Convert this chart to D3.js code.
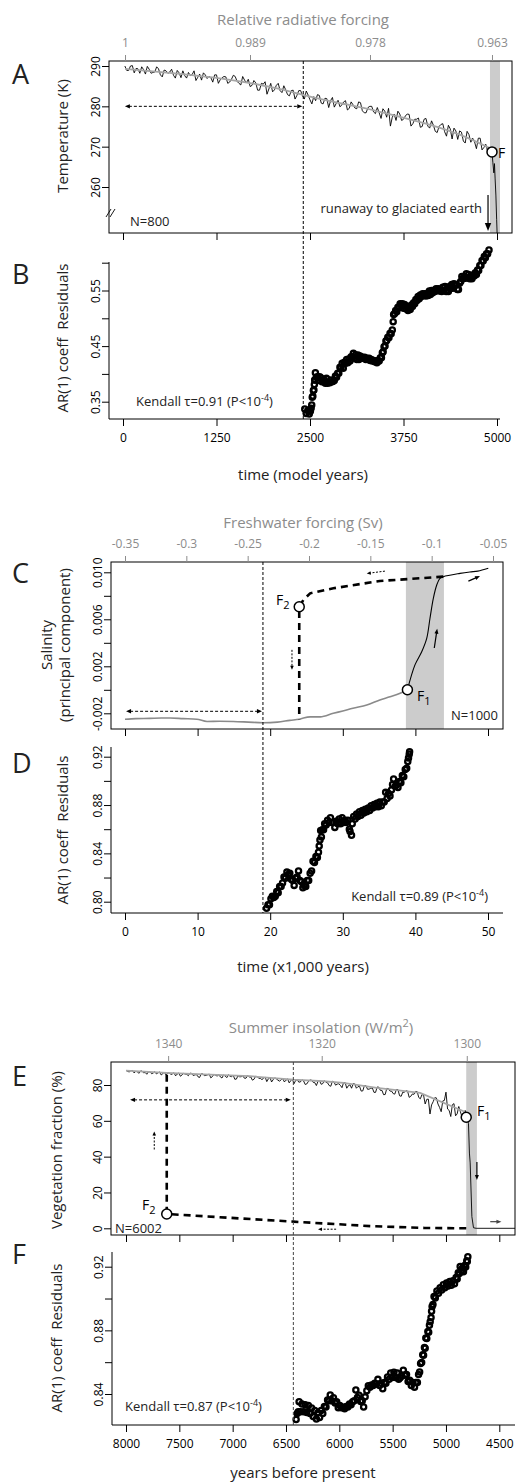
<!DOCTYPE html>
<html>
<head>
<meta charset="utf-8">
<script src="https://cdn.jsdelivr.net/npm/d3@7"></script>
<style>
  body { margin: 0; background: #fff; }
  svg { display: block; font-family: "Open Sans", sans-serif; }
</style>
</head>
<body>
<div id="chart"></div>
<script>
// ━━━━━━━━━━━━━━━━━━━━━━━━━━━━━━━━━━━━━━━━━━━━━━━━━━━━━━━━━━━━━━━━━━━━━━━━━━━━━━
// Data /////////////////////////////////////////////////////////////////////////
// ━━━━━━━━━━━━━━━━━━━━━━━━━━━━━━━━━━━━━━━━━━━━━━━━━━━━━━━━━━━━━━━━━━━━━━━━━━━━━━

// A: temperature (K) every 25 model years from year 25
const aStart = 25, aStep = 25;
const aTemp = [
  290.0,288.9,288.9,290.0,290.1,288.3,289.4,289.3,288.2,289.8,289.1,288.0,289.9,289.2,288.2,288.4,288.5,289.8,289.3,287.8,
  287.3,289.0,288.8,288.2,288.5,289.2,287.7,287.0,288.9,288.3,287.1,288.8,287.6,287.0,288.4,287.6,287.9,288.8,286.4,287.2,
  288.0,286.5,288.3,287.8,286.9,287.4,287.1,286.0,287.8,287.8,285.7,286.6,287.1,287.4,287.3,285.7,286.0,286.7,287.7,287.4,
  286.2,285.7,285.3,287.4,286.5,285.8,286.7,284.9,285.2,286.4,285.8,284.0,284.0,285.7,285.5,286.1,283.0,284.3,285.7,283.6,
  284.1,285.2,285.7,283.9,283.4,285.1,284.1,282.9,282.6,283.9,284.0,281.8,282.7,283.9,283.9,282.6,281.8,283.8,282.8,281.6,
  280.6,282.4,281.4,282.9,282.7,280.8,280.6,282.0,281.9,279.7,281.4,282.2,279.8,280.7,281.5,279.9,280.3,281.1,281.4,279.1,
  279.5,281.1,280.4,279.6,279.4,281.1,280.9,278.9,278.4,278.4,279.7,280.0,280.0,278.6,278.2,279.7,278.4,277.0,279.4,278.8,
  277.3,279.5,275.1,277.3,278.1,276.5,278.8,278.1,276.5,276.8,277.6,278.1,278.0,275.1,275.7,276.8,276.8,277.1,274.8,275.0,
  276.8,277.0,275.1,274.6,276.4,275.3,273.8,273.5,275.0,275.5,275.7,273.7,272.6,275.3,274.4,271.9,274.6,273.9,271.8,273.9,
  273.6,271.4,270.9,273.8,273.0,271.1,272.1,271.2,269.5,272.1,272.1,269.2,269.8,270.6,268.9
];
const aTrend = [[27,289.3],[695,288.2],[1364,286.9],[2032,284.7],[2407,282.8],[2701,281.5],[3035,280.3],
  [3369,279.0],[3704,277.4],[4038,275.8],[4372,273.9],[4639,272.0],[4906,269.6]];
const aRunaway = [[4933,268.7],[4945,266.0],[4958,263.5],[4966,265.8],[4975,262.0],[4985,258.0],[4995,252.0],[5010,244.0]];
const aFold = [4933, 268.7];
const aBand = [4906, 5040];
const aWindow = [25, 2410];            // sliding window (years)
const aTicksY = [260, 270, 280, 290];
const aTopTicks = [27, 1698, 3302, 4933];
const aTopLabels = ['1', '0.989', '0.978', '0.963'];

// B: AR(1) coefficient of residuals
const bAR = [
  [2430,0.337],[2450,0.329],[2470,0.334],[2490,0.328],[2505,0.333],[2515,0.338],[2523,0.344],[2530,0.358],
  [2538,0.360],[2545,0.370],[2552,0.371],[2558,0.381],[2563,0.389],[2567,0.389],[2572,0.402],[2585,0.394],
  [2600,0.395],[2615,0.388],[2630,0.395],[2645,0.393],[2660,0.386],[2675,0.387],[2690,0.389],[2705,0.383],
  [2720,0.392],[2735,0.383],[2750,0.385],[2765,0.384],[2780,0.389],[2795,0.386],[2810,0.387],[2825,0.388],
  [2840,0.396],[2855,0.394],[2870,0.401],[2885,0.401],[2900,0.412],[2915,0.411],[2930,0.419],[2945,0.410],
  [2960,0.421],[2975,0.419],[2990,0.426],[3005,0.420],[3020,0.427],[3035,0.423],[3050,0.431],[3065,0.430],
  [3080,0.437],[3095,0.428],[3110,0.434],[3125,0.426],[3140,0.434],[3155,0.426],[3170,0.432],[3185,0.428],
  [3200,0.430],[3215,0.428],[3230,0.430],[3245,0.426],[3260,0.428],[3275,0.426],[3290,0.428],[3305,0.424],
  [3320,0.426],[3335,0.423],[3350,0.424],[3365,0.422],[3380,0.423],[3395,0.420],[3410,0.424],[3425,0.423],
  [3440,0.429],[3455,0.429],[3467,0.438],[3478,0.440],[3490,0.449],[3503,0.450],[3515,0.459],[3525,0.460],
  [3540,0.466],[3555,0.465],[3570,0.473],[3585,0.472],[3600,0.479],[3612,0.494],[3618,0.507],[3630,0.508],
  [3645,0.514],[3660,0.512],[3675,0.520],[3690,0.519],[3705,0.526],[3720,0.523],[3735,0.526],[3750,0.518],
  [3765,0.525],[3780,0.517],[3795,0.521],[3810,0.514],[3825,0.519],[3840,0.516],[3855,0.524],[3870,0.521],
  [3885,0.528],[3900,0.526],[3915,0.534],[3930,0.532],[3945,0.539],[3960,0.535],[3975,0.542],[3990,0.539],
  [4005,0.544],[4020,0.541],[4035,0.544],[4050,0.540],[4065,0.544],[4080,0.541],[4095,0.549],[4110,0.543],
  [4125,0.550],[4140,0.546],[4155,0.550],[4170,0.548],[4185,0.553],[4200,0.550],[4215,0.553],[4230,0.549],
  [4245,0.551],[4260,0.548],[4275,0.556],[4290,0.550],[4305,0.557],[4320,0.548],[4335,0.551],[4350,0.548],
  [4365,0.557],[4380,0.554],[4395,0.561],[4410,0.554],[4425,0.562],[4440,0.560],[4455,0.560],[4470,0.552],
  [4485,0.552],[4500,0.563],[4515,0.566],[4530,0.575],[4545,0.571],[4560,0.575],[4575,0.572],[4590,0.580],
  [4605,0.573],[4620,0.579],[4635,0.571],[4650,0.574],[4665,0.571],[4680,0.578],[4695,0.576],[4710,0.582],
  [4725,0.579],[4740,0.587],[4755,0.586],[4770,0.595],[4785,0.595],[4800,0.604],[4815,0.603],[4830,0.611],
  [4845,0.609],[4860,0.616],[4875,0.616],[4893,0.623]
];
const bTicksX = [0, 1250, 2500, 3750, 5000];
const bTicksY = [0.35, 0.40, 0.45, 0.50, 0.55, 0.60];
const bLabelsY = ['0.35', '', '0.45', '', '0.55', ''];
const bKendall = ['Kendall τ=0.91 (P<10', '-4', ')'];

// C: salinity (principal component) against time (kyr)
const cForward = [[0,-0.0025],[1.5,-0.00245],[3.4,-0.00243],[5,-0.0024],[6.2,-0.0024],[8,-0.00245],[9.9,-0.0025],
  [11.3,-0.0027],[13,-0.00268],[14.9,-0.0027],[17,-0.00275],[19,-0.0028],[21,-0.00275],[22.7,-0.0026],[24,-0.0025],
  [25.5,-0.0023],[26.9,-0.0023],[28.7,-0.0020],[30,-0.0018],[31.4,-0.00157],[33.3,-0.0013],[35.1,-0.00087],
  [36.5,-0.0006],[37.9,-0.0003],[38.9,0.0000]];
const cUpper = [[38.9,0.0000],[39.94,0.00212],[40.87,0.00324],[41.56,0.00438],[42.01,0.00609],[42.47,0.00779],
  [42.94,0.00892],[43.39,0.00949],[43.84,0.00963],[46.14,0.00991],[47.5,0.01003],[48.6,0.0101],[50.04,0.01034]];
const cReturn = [[43.84,0.00963],[35.1,0.00926],[28.7,0.00864],[25.5,0.00821],[24.56,0.00764],[24.0,0.00707],[24.0,-0.0025]];
const cF1 = [38.9, 0.0000], cF2 = [24.0, 0.00707];
const cBand = [-0.121, -0.090];        // freshwater forcing (Sv)
const cWindow = [0.15, 19];
const cTicksY = [-0.002, 0, 0.002, 0.004, 0.006, 0.008, 0.010];
const cLabelsY = ['-0.002', '', '0.002', '', '0.006', '', '0.010'];
const cTopTicks = [-0.35, -0.3, -0.25, -0.2, -0.15, -0.1, -0.05];
const cTopLabels = ['-0.35', '-0.3', '-0.25', '-0.2', '-0.15', '-0.1', '-0.05'];

// D: AR(1) coefficient of residuals
const dAR = [
  [19.5,0.7945],[19.7,0.7975],[19.9,0.7975],[20.1,0.8025],[20.3,0.8045],[20.5,0.8035],[20.7,0.8045],[20.9,0.8085],
  [21.1,0.8075],[21.3,0.8125],[21.5,0.8125],[21.7,0.8155],[21.9,0.8205],[22.1,0.8195],[22.3,0.8245],[22.5,0.8225],
  [22.7,0.8235],[22.9,0.8185],[23.1,0.8175],[23.3,0.8135],[23.5,0.8195],[23.7,0.8205],[23.9,0.8255],[24.1,0.8175],
  [24.3,0.8165],[24.5,0.8115],[24.7,0.8135],[24.9,0.8125],[25.1,0.8175],[25.3,0.8175],[25.5,0.8235],[25.7,0.8255],
  [25.9,0.8335],[26.1,0.8325],[26.3,0.8375],[26.5,0.8365],[26.65,0.841],[26.75,0.846],[26.85,0.851],[26.95,0.859],
  [27.05,0.8535],[27.2,0.8595],[27.35,0.8595],[27.5,0.8645],[27.7,0.8635],[27.9,0.8675],[28.1,0.8655],[28.3,0.8695],
  [28.5,0.8655],[28.7,0.8655],[28.9,0.8615],[29.1,0.8665],[29.3,0.8645],[29.5,0.8685],[29.7,0.8645],[29.9,0.8695],
  [30.1,0.8655],[30.3,0.8675],[30.5,0.8655],[30.7,0.8675],[30.9,0.860],[31.0,0.858],[31.2,0.855],[31.3,0.8645],
  [31.5,0.8705],[31.7,0.8685],[31.9,0.8725],[32.1,0.8705],[32.3,0.8745],[32.5,0.8715],[32.7,0.8755],[32.9,0.8735],
  [33.1,0.8765],[33.3,0.8745],[33.5,0.8775],[33.7,0.8755],[33.9,0.8795],[34.1,0.8775],[34.3,0.8805],[34.5,0.8785],
  [34.7,0.8815],[34.9,0.8785],[35.1,0.8825],[35.3,0.8795],[35.5,0.8825],[35.7,0.8825],[35.9,0.8905],[36.1,0.8855],
  [36.3,0.8895],[36.5,0.8875],[36.7,0.8925],[36.85,0.897],[37.0,0.9015],[37.2,0.8955],[37.4,0.8965],[37.6,0.8945],
  [37.8,0.8995],[38.0,0.8985],[38.2,0.9045],[38.4,0.9035],[38.6,0.9095],[38.8,0.9105],[38.95,0.916],[39.05,0.919],
  [39.15,0.922],[39.2,0.924]
];
const dTicksX = [0, 10, 20, 30, 40, 50];
const dTicksY = [0.80, 0.82, 0.84, 0.86, 0.88, 0.90, 0.92];
const dLabelsY = ['0.80', '', '0.84', '', '0.88', '', '0.92'];
const dKendall = ['Kendall τ=0.89 (P<10', '-4', ')'];

// E: vegetation fraction (%) every 15 years from 8000 BP
const eStart = 8000, eStep = -15;
const eVeg = [
  88.2,87.6,87.3,88.0,88.1,86.8,87.5,87.5,86.5,87.8,87.8,86.8,87.0,86.0,87.4,87.4,86.3,86.7,87.4,86.2,
  86.8,87.3,85.6,86.3,87.2,85.6,86.6,86.8,85.9,86.2,86.8,85.1,86.1,86.7,84.9,85.6,86.5,86.1,85.9,85.2,
  86.6,86.5,85.3,85.6,85.9,84.6,84.2,86.2,86.2,85.2,85.4,85.7,86.1,84.0,84.7,86.0,85.4,85.0,85.8,84.5,
  83.9,85.6,85.0,84.1,85.7,84.9,84.6,85.5,83.2,83.3,85.2,84.6,84.6,85.2,83.8,83.8,85.2,84.5,84.5,82.7,
  83.2,84.9,84.7,83.7,83.8,82.9,84.0,84.3,81.9,83.5,84.2,81.7,83.0,84.0,83.4,82.7,82.1,83.0,83.6,81.7,
  82.7,83.4,81.2,82.4,83.3,80.7,82.5,83.0,81.6,81.7,82.9,82.3,80.3,80.6,82.0,82.8,82.7,81.5,81.3,79.7,
  82.0,82.3,80.4,80.8,82.4,81.5,81.2,79.7,79.3,82.1,81.7,79.9,80.5,80.7,79.8,78.5,81.4,81.3,78.2,79.6,
  80.1,78.2,80.8,80.6,78.2,79.1,79.2,76.6,76.7,79.6,79.6,77.6,77.7,78.2,78.3,75.9,75.9,78.9,78.8,77.0,
  77.0,74.6,74.7,78.1,78.0,76.6,76.6,75.2,74.9,77.5,77.4,74.0,73.7,76.0,75.9,76.8,76.6,73.1,73.7,75.0,
  74.8,76.4,76.3,73.0,72.3,74.7,74.3,69.4,72.0,72.1,63.8,68.9,70.7,72.9,72.8,69.4,67.5,65.1,71.1,71.4,
  76.0,66.6,65.8,62.4,69.0,69.6,62.8,63.9,68.0,65.1,62.3,61.4,65.8
];
const eTrend = [[8000,88.0],[7618,86.8],[7212,85.8],[6837,84.9],[6431,83.0],[6149,82.1],[5962,81.2],
  [5648,78.4],[5242,75.6],[4836,65.4],[4810,63.5]];
const eDrop = [[4810,62.0],[4789,58.6],[4780,42.0],[4773,36.5],[4757,6.5],[4742,0.3],[4717,0],[4350,0]];
const eReturn = [[4810,0],[5200,0.2],[5700,1.2],[6431,3.7],[7618,8.0],[7618,86.8]];
const eF1 = [4810, 62.0], eF2 = [7618, 8.0];
const eBand = [4810, 4710];
const eWindow = [7962, 6446];
const eTicksY = [0, 20, 40, 60, 80];
const eTopTicks = [7605, 6165, 4805];
const eTopLabels = ['1340', '1320', '1300'];

// F: AR(1) coefficient of residuals
const fAR = [
  [6405,0.8240],[6395,0.8277],[6385,0.8288],[6377,0.8352],[6365,0.8288],[6350,0.8337],[6335,0.8288],[6320,0.8332],
  [6305,0.8283],[6290,0.8327],[6275,0.8278],[6260,0.8312],[6245,0.8258],[6230,0.8297],[6215,0.8243],[6200,0.8282],
  [6185,0.8253],[6170,0.8297],[6155,0.8278],[6140,0.8322],[6125,0.8318],[6110,0.8362],[6095,0.8358],[6085,0.8394],
  [6070,0.8358],[6055,0.8377],[6040,0.8343],[6025,0.8352],[6010,0.8313],[5995,0.8327],[5980,0.8313],[5965,0.8317],
  [5950,0.8308],[5935,0.8322],[5920,0.8318],[5905,0.8337],[5890,0.8333],[5875,0.8352],[5860,0.8358],[5845,0.8425],
  [5830,0.8378],[5815,0.8392],[5800,0.8353],[5785,0.8357],[5772,0.8318],[5758,0.8382],[5742,0.8420],[5728,0.8452],
  [5713,0.8443],[5698,0.8457],[5683,0.8453],[5668,0.8467],[5653,0.8463],[5638,0.8492],[5623,0.8453],[5608,0.8467],
  [5593,0.8433],[5578,0.8472],[5563,0.8468],[5548,0.8507],[5533,0.8493],[5518,0.8532],[5503,0.8503],[5488,0.8537],
  [5473,0.8503],[5458,0.8532],[5443,0.8493],[5430,0.8502],[5415,0.8513],[5400,0.8550],[5385,0.8518],[5370,0.8522],
  [5355,0.8478],[5340,0.8487],[5325,0.8453],[5310,0.8472],[5295,0.8443],[5282,0.8472],[5268,0.8473],[5257,0.8522],
  [5247,0.8538],[5238,0.8592],[5228,0.8598],[5218,0.8647],[5210,0.8644],[5202,0.8692],[5195,0.8688],[5189,0.8752],
  [5180,0.8748],[5170,0.8793],[5162,0.8788],[5155,0.8832],[5148,0.8854],[5140,0.8880],[5135,0.8920],[5130,0.8950],
  [5122,0.8963],[5112,0.9012],[5100,0.9003],[5085,0.9047],[5070,0.9033],[5055,0.9067],[5040,0.9053],[5025,0.9087],
  [5010,0.9068],[4995,0.9097],[4980,0.9078],[4965,0.9107],[4950,0.9083],[4935,0.9112],[4920,0.9093],[4905,0.9132],
  [4895,0.9123],[4885,0.9162],[4875,0.9158],[4867,0.9202],[4855,0.9173],[4845,0.9192],[4836,0.9168],[4825,0.9207],
  [4815,0.9198],[4805,0.9237],[4800,0.9233],[4795,0.9263]
];
const fTicksX = [8000, 7500, 7000, 6500, 6000, 5500, 5000, 4500];
const fTicksY = [0.84, 0.86, 0.88, 0.90, 0.92];
const fLabelsY = ['0.84', '', '0.88', '', '0.92'];
const fKendall = ['Kendall τ=0.87 (P<10', '-4', ')'];

const abSplit = 2410, cdSplit = 19, efSplit = 6431;

// ━━━━━━━━━━━━━━━━━━━━━━━━━━━━━━━━━━━━━━━━━━━━━━━━━━━━━━━━━━━━━━━━━━━━━━━━━━━━━━
// Layout + scales //////////////////////////////////////////////////////////////
// ━━━━━━━━━━━━━━━━━━━━━━━━━━━━━━━━━━━━━━━━━━━━━━━━━━━━━━━━━━━━━━━━━━━━━━━━━━━━━━

const width = 516, height = 1483;
const GREY = '#8c8c8c';
const YLAB = 'AR(1) coeff\u00a0\u00a0Residuals';

const box = {
  A: { l: 109, t: 61,   r: 512, b: 233 },
  B: { l: 109, t: 262,  r: 500, b: 419 },
  C: { l: 111, t: 562,  r: 503, b: 729 },
  D: { l: 111, t: 747,  r: 503, b: 913 },
  E: { l: 111, t: 1062, r: 515, b: 1235 },
  F: { l: 112, t: 1252, r: 515, b: 1425 }
};

const xAB = d3.scaleLinear().domain([0, 5000]).range([123, 497]);
const yA  = d3.scaleLinear().domain([260, 290]).range([187, 66]);
const yB  = d3.scaleLinear().domain([0.35, 0.60]).range([401.7, 262.7]);
const xCD = d3.scaleLinear().domain([0, 50]).range([125, 488]);
const fC  = d3.scaleLinear().domain([-0.35, -0.05]).range([125, 493]);
const yC  = d3.scaleLinear().domain([-0.002, 0.010]).range([713.3, 572.3]);
const yD  = d3.scaleLinear().domain([0.80, 0.92]).range([901.7, 756.7]);
const xEF = d3.scaleLinear().domain([8000, 4500]).range([126, 499.3]);
const yE  = d3.scaleLinear().domain([0, 80]).range([1228.3, 1085]);
const yF  = d3.scaleLinear().domain([0.84, 0.92]).range([1394, 1266.7]);

const svg = d3.select('#chart').append('svg')
  .attr('xmlns', 'http://www.w3.org/2000/svg')
  .attr('viewBox', [0, 0, width, height])
  .attr('width', width)
  .attr('height', height);

svg.append('rect').attr('width', width).attr('height', height).attr('fill', '#fff');
const defs = svg.append('defs');

function clipFor(id, b) {
  defs.append('clipPath').attr('id', id).append('rect')
    .attr('x', b.l).attr('y', b.t).attr('width', b.r - b.l).attr('height', b.b - b.t);
  return `url(#${id})`;
}

// ━━━━━━━━━━━━━━━━━━━━━━━━━━━━━━━━━━━━━━━━━━━━━━━━━━━━━━━━━━━━━━━━━━━━━━━━━━━━━━
// Helpers //////////////////////////////////////////////////////////////////////
// ━━━━━━━━━━━━━━━━━━━━━━━━━━━━━━━━━━━━━━━━━━━━━━━━━━━━━━━━━━━━━━━━━━━━━━━━━━━━━━

function leftAxis(g, b, y, ticks, labels) {
  const ax = g.append('g').attr('transform', `translate(${b.l},0)`)
    .call(d3.axisLeft(y).tickValues(ticks).tickSize(7).tickFormat((d, i) => labels[i]));
  ax.select('.domain').remove();
  ax.attr('font-family', null).attr('font-size', 12);
  ax.selectAll('.tick text').attr('x', 0).attr('dy', 0)
    .attr('transform', 'translate(-9,0) rotate(-90)').attr('text-anchor', 'middle');
}

function bottomAxis(g, b, x, ticks, labels) {
  const ax = g.append('g').attr('transform', `translate(0,${b.b})`)
    .call(d3.axisBottom(x).tickValues(ticks).tickSize(7).tickFormat((d, i) => labels ? labels[i] : ''));
  ax.select('.domain').remove();
  ax.attr('font-family', null).attr('font-size', 12);
  ax.selectAll('.tick text').attr('y', 14);
}

function topAxis(g, b, x, ticks, labels) {
  const ax = g.append('g').attr('transform', `translate(0,${b.t})`)
    .call(d3.axisTop(x).tickValues(ticks).tickSize(6).tickFormat((d, i) => labels[i]));
  ax.select('.domain').remove();
  ax.attr('font-family', null).attr('font-size', 12);
  ax.selectAll('.tick line').attr('stroke', GREY);
  ax.selectAll('.tick text').attr('y', -14).attr('fill', GREY);
}

function frame(g, b) {
  g.append('rect').attr('x', b.l).attr('y', b.t).attr('width', b.r - b.l).attr('height', b.b - b.t)
    .attr('fill', 'none').attr('stroke', '#000').attr('stroke-width', 1);
}

function ell(g, b) {
  g.append('path').attr('d', `M${b.l},${b.t}V${b.b}H${b.r}`)
    .attr('fill', 'none').attr('stroke', '#000').attr('stroke-width', 1);
}

function head(g, x1, y1, x2, y2, L, W, colour) {
  const a = Math.atan2(y2 - y1, x2 - x1), c = Math.cos(a), s = Math.sin(a);
  g.append('path')
    .attr('d', `M${x2},${y2}L${x2 - L * c - W * s},${y2 - L * s + W * c}L${x2 - L * c + W * s},${y2 - L * s - W * c}Z`)
    .attr('fill', colour);
}

function arrow(g, p1, p2, opts = {}) {
  const { dash = null, w = 1, L = 6, W = 2.4, both = false, colour = '#000' } = opts;
  const [x1, y1] = p1, [x2, y2] = p2;
  const len = Math.hypot(x2 - x1, y2 - y1), ux = (x2 - x1) / len, uy = (y2 - y1) / len;
  const sx = both ? x1 + ux * L * 0.8 : x1, sy = both ? y1 + uy * L * 0.8 : y1;
  g.append('line').attr('x1', sx).attr('y1', sy).attr('x2', x2 - ux * L * 0.8).attr('y2', y2 - uy * L * 0.8)
    .attr('stroke', colour).attr('stroke-width', w).attr('stroke-dasharray', dash);
  head(g, x1, y1, x2, y2, L, W, colour);
  if (both) head(g, x2, y2, x1, y1, L, W, colour);
}

function kendall(g, x, y, parts, anchor) {
  const t = g.append('text').attr('x', x).attr('y', y).attr('font-size', 13).attr('fill', '#222')
    .attr('text-anchor', anchor).text(parts[0]);
  t.append('tspan').attr('dy', -5).attr('font-size', 9).text(parts[1]);
  t.append('tspan').attr('dy', 5).attr('font-size', 13).text(parts[2]);
}

function foldLabel(g, x, y, sub) {
  const t = g.append('text').attr('x', x).attr('y', y).attr('font-size', 14).text('F');
  if (sub) t.append('tspan').attr('dy', 4).attr('font-size', 11).text(sub);
}

function ring(g, x, y) {
  g.append('circle').attr('cx', x).attr('cy', y).attr('r', 5)
    .attr('fill', '#fff').attr('stroke', '#000').attr('stroke-width', 1.5);
}

// open circles, heavily overplotted into a dark band like the original
function scatter(g, data, x, y) {
  g.append('g')
    .selectAll('circle').data(data).join('circle')
    .attr('cx', d => x(d[0])).attr('cy', d => y(d[1])).attr('r', 2.6)
    .attr('fill', 'none').attr('stroke', '#000').attr('stroke-width', 2.3);
}

function vtext(g, x, y, txt, size = 15) {
  g.append('text').attr('transform', `translate(${x},${y}) rotate(-90)`)
    .attr('text-anchor', 'middle').attr('font-size', size).attr('fill', '#222').text(txt);
}

function letter(g, x, y, txt) {
  g.append('text').attr('x', x).attr('y', y).attr('font-size', 27).attr('fill', '#222').text(txt);
}

const line = (x, y) => d3.line().x(d => x(d[0])).y(d => y(d[1]));

// ━━━━━━━━━━━━━━━━━━━━━━━━━━━━━━━━━━━━━━━━━━━━━━━━━━━━━━━━━━━━━━━━━━━━━━━━━━━━━━
// Panel A + B ///////////////////////////////////////////////////////////////////
// ━━━━━━━━━━━━━━━━━━━━━━━━━━━━━━━━━━━━━━━━━━━━━━━━━━━━━━━━━━━━━━━━━━━━━━━━━━━━━━

const gA = svg.append('g').attr('id', 'panel-a');
const clipA = clipFor('clipA', box.A);

gA.append('rect').attr('x', xAB(aBand[0])).attr('y', box.A.t)
  .attr('width', xAB(aBand[1]) - xAB(aBand[0])).attr('height', box.A.b - box.A.t).attr('fill', '#cccccc');

const aSeries = aTemp.map((v, i) => [aStart + i * aStep, v]).concat(aRunaway);
gA.append('path').attr('clip-path', clipA).attr('d', line(xAB, yA)(aSeries))
  .attr('fill', 'none').attr('stroke', '#000').attr('stroke-width', 0.9).attr('stroke-linejoin', 'round');
gA.append('path').attr('d', line(xAB, yA).curve(d3.curveBasis)(aTrend))
  .attr('fill', 'none').attr('stroke', '#a6a6a6').attr('stroke-width', 1.8);

frame(gA, box.A);
leftAxis(gA, box.A, yA, aTicksY, aTicksY.map(String));
bottomAxis(gA, box.A, xAB, bTicksX, null);
topAxis(gA, box.A, xAB, aTopTicks, aTopLabels);

// axis break
[0, 4].forEach(o => gA.append('line').attr('x1', 106 + o).attr('y1', 217).attr('x2', 111 + o).attr('y2', 209)
  .attr('stroke', '#000').attr('stroke-width', 0.9));

arrow(gA, [xAB(aWindow[0]), yA(280)], [xAB(aWindow[1]) - 1, yA(280)], { dash: '3,2', both: true, L: 5, W: 2.2 });
ring(gA, xAB(aFold[0]), yA(aFold[1]));
foldLabel(gA, 498, 158, null);
arrow(gA, [xAB(4880), yA(258.0)], [xAB(4880), yA(249.1)], { w: 1.2, L: 8, W: 3.2 });
gA.append('text').attr('x', 482).attr('y', 213).attr('text-anchor', 'end').attr('font-size', 13).attr('fill', '#222')
  .text('runaway to glaciated earth');
gA.append('text').attr('x', 130).attr('y', 226).attr('font-size', 13).attr('fill', '#222').text('N=800');

gA.append('text').attr('x', 303).attr('y', 25).attr('text-anchor', 'middle').attr('font-size', 15)
  .attr('fill', GREY).text('Relative radiative forcing');
vtext(gA, 68, 136, 'Temperature (K)');
letter(gA, 12, 84, 'A');

const gB = svg.append('g').attr('id', 'panel-b');
scatter(gB, bAR, xAB, yB);
ell(gB, box.B);
leftAxis(gB, box.B, yB, bTicksY, bLabelsY);
bottomAxis(gB, box.B, xAB, bTicksX, bTicksX.map(String));
kendall(gB, 136, 406, bKendall, 'start');
vtext(gB, 68, 338, YLAB);
gB.append('text').attr('x', 303).attr('y', 480).attr('text-anchor', 'middle').attr('font-size', 15).attr('fill', '#222')
  .text('time (model years)');
letter(gB, 12, 284, 'B');

svg.append('line').attr('x1', xAB(abSplit)).attr('x2', xAB(abSplit)).attr('y1', box.A.t).attr('y2', box.B.b)
  .attr('stroke', '#000').attr('stroke-width', 1).attr('stroke-dasharray', '3,2');

// ━━━━━━━━━━━━━━━━━━━━━━━━━━━━━━━━━━━━━━━━━━━━━━━━━━━━━━━━━━━━━━━━━━━━━━━━━━━━━━
// Panel C + D ///////////////////////////////////////////////////////////////////
// ━━━━━━━━━━━━━━━━━━━━━━━━━━━━━━━━━━━━━━━━━━━━━━━━━━━━━━━━━━━━━━━━━━━━━━━━━━━━━━

const gC = svg.append('g').attr('id', 'panel-c');

gC.append('rect').attr('x', fC(cBand[0])).attr('y', box.C.t)
  .attr('width', fC(cBand[1]) - fC(cBand[0])).attr('height', box.C.b - box.C.t).attr('fill', '#cccccc');

gC.append('path').attr('d', line(xCD, yC).curve(d3.curveMonotoneX)(cForward))
  .attr('fill', 'none').attr('stroke', '#8a8a8a').attr('stroke-width', 1.6);
gC.append('path').attr('d', line(xCD, yC).curve(d3.curveCatmullRom)(cUpper))
  .attr('fill', 'none').attr('stroke', '#000').attr('stroke-width', 1.1);
gC.append('path').attr('d', line(xCD, yC)(cReturn))
  .attr('fill', 'none').attr('stroke', '#000').attr('stroke-width', 2.6).attr('stroke-dasharray', '7,5');

frame(gC, box.C);
leftAxis(gC, box.C, yC, cTicksY, cLabelsY);
bottomAxis(gC, box.C, xCD, dTicksX, null);
topAxis(gC, box.C, fC, cTopTicks, cTopLabels);

arrow(gC, [xCD(cWindow[0]), yC(-0.00183)], [xCD(cWindow[1]) - 1, yC(-0.00183)], { dash: '3,2', both: true, L: 5, W: 2.2 });
arrow(gC, [xCD(42.6), yC(0.00356)], [xCD(43.0), yC(0.0052)], { w: 1.2, L: 5, W: 2 });
arrow(gC, [xCD(47.3), yC(0.00925)], [xCD(48.9), yC(0.00968)], { w: 1.2, L: 5, W: 2 });
arrow(gC, [xCD(35.8), yC(0.0101)], [xCD(33.3), yC(0.0099)], { dash: '2,1.5', w: 1, L: 4, W: 1.8 });
arrow(gC, [xCD(23.0), yC(0.0034)], [xCD(23.0), yC(0.0017)], { dash: '2,1.5', w: 1, L: 4, W: 1.8 });

ring(gC, xCD(cF1[0]), yC(cF1[1]));
ring(gC, xCD(cF2[0]), yC(cF2[1]));
foldLabel(gC, 417, 701, '1');
foldLabel(gC, 276, 605, '2');
gC.append('text').attr('x', 498).attr('y', 720).attr('text-anchor', 'end').attr('font-size', 13).attr('fill', '#222').text('N=1000');

gC.append('text').attr('x', 303).attr('y', 528).attr('text-anchor', 'middle').attr('font-size', 15)
  .attr('fill', GREY).text('Freshwater forcing (Sv)');
vtext(gC, 52, 645, 'Salinity');
vtext(gC, 70, 645, '(principal component)');
letter(gC, 12, 583, 'C');

const gD = svg.append('g').attr('id', 'panel-d');
scatter(gD, dAR, xCD, yD);
ell(gD, box.D);
leftAxis(gD, box.D, yD, dTicksY, dLabelsY);
bottomAxis(gD, box.D, xCD, dTicksX, dTicksX.map(String));
kendall(gD, 488, 901, dKendall, 'end');
vtext(gD, 68, 830, YLAB);
gD.append('text').attr('x', 303).attr('y', 972).attr('text-anchor', 'middle').attr('font-size', 15).attr('fill', '#222')
  .text('time (x1,000 years)');
letter(gD, 12, 773, 'D');

svg.append('line').attr('x1', xCD(cdSplit)).attr('x2', xCD(cdSplit)).attr('y1', box.C.t).attr('y2', box.D.b)
  .attr('stroke', '#000').attr('stroke-width', 1).attr('stroke-dasharray', '3,2');

// ━━━━━━━━━━━━━━━━━━━━━━━━━━━━━━━━━━━━━━━━━━━━━━━━━━━━━━━━━━━━━━━━━━━━━━━━━━━━━━
// Panel E + F ///////////////////////////////////////////////////////////////////
// ━━━━━━━━━━━━━━━━━━━━━━━━━━━━━━━━━━━━━━━━━━━━━━━━━━━━━━━━━━━━━━━━━━━━━━━━━━━━━━

const gE = svg.append('g').attr('id', 'panel-e');
const clipE = clipFor('clipE', box.E);

gE.append('rect').attr('x', xEF(eBand[0])).attr('y', box.E.t)
  .attr('width', xEF(eBand[1]) - xEF(eBand[0])).attr('height', box.E.b - box.E.t).attr('fill', '#cccccc');

const eSeries = eVeg.map((v, i) => [eStart + i * eStep, v]).concat(eDrop);
gE.append('path').attr('clip-path', clipE).attr('d', line(xEF, yE)(eSeries))
  .attr('fill', 'none').attr('stroke', '#000').attr('stroke-width', 0.9).attr('stroke-linejoin', 'round');
gE.append('path').attr('d', line(xEF, yE)(eTrend))
  .attr('fill', 'none').attr('stroke', '#a6a6a6').attr('stroke-width', 1.8);
gE.append('path').attr('d', line(xEF, yE)(eReturn))
  .attr('fill', 'none').attr('stroke', '#000').attr('stroke-width', 2.6).attr('stroke-dasharray', '7,5');

frame(gE, box.E);
leftAxis(gE, box.E, yE, eTicksY, eTicksY.map(String));
bottomAxis(gE, box.E, xEF, fTicksX, null);
topAxis(gE, box.E, xEF, eTopTicks, eTopLabels);

arrow(gE, [xEF(eWindow[0]), yE(71.7)], [xEF(eWindow[1]) - 1, yE(71.7)], { dash: '3,2', both: true, L: 5, W: 2.2 });
arrow(gE, [xEF(7735), yE(44)], [xEF(7735), yE(54)], { dash: '2,1.5', w: 1, L: 4, W: 1.8 });
arrow(gE, [xEF(6030), yE(-0.5)], [xEF(6200), yE(-0.5)], { dash: '2,1.5', w: 1, L: 4, W: 1.8 });
arrow(gE, [xEF(4710), yE(37)], [xEF(4710), yE(27)], { w: 1.2, L: 5, W: 2 });
arrow(gE, [xEF(4585), yE(3.7)], [xEF(4480), yE(3.7)], { w: 1.2, L: 5, W: 2, colour: '#444' });

ring(gE, xEF(eF1[0]), yE(eF1[1]));
ring(gE, xEF(eF2[0]), yE(eF2[1]));
foldLabel(gE, 477, 1116, '1');
foldLabel(gE, 142, 1210, '2');
gE.append('text').attr('x', 115).attr('y', 1233).attr('font-size', 13).attr('fill', '#222').text('N=6002');

const eTitle = gE.append('text').attr('x', 321).attr('y', 1033).attr('text-anchor', 'middle').attr('font-size', 15)
  .attr('fill', GREY).text('Summer insolation (W/m');
eTitle.append('tspan').attr('dy', -6).attr('font-size', 11).text('2');
eTitle.append('tspan').attr('dy', 6).attr('font-size', 15).text(')');
vtext(gE, 62, 1150, 'Vegetation fraction (%)');
letter(gE, 12, 1086, 'E');

const gF = svg.append('g').attr('id', 'panel-f');
scatter(gF, fAR, xEF, yF);
ell(gF, box.F);
leftAxis(gF, box.F, yF, fTicksY, fLabelsY);
bottomAxis(gF, box.F, xEF, fTicksX, fTicksX.map(String));
kendall(gF, 125, 1411, fKendall, 'start');
vtext(gF, 62, 1338, YLAB);
gF.append('text').attr('x', 303).attr('y', 1478).attr('text-anchor', 'middle').attr('font-size', 15).attr('fill', '#222')
  .text('years before present');
letter(gF, 12, 1264, 'F');

svg.append('line').attr('x1', xEF(efSplit)).attr('x2', xEF(efSplit)).attr('y1', box.E.t).attr('y2', box.F.b)
  .attr('stroke', '#444').attr('stroke-width', 1).attr('stroke-dasharray', '3,2');
</script>
</body>
</html>
